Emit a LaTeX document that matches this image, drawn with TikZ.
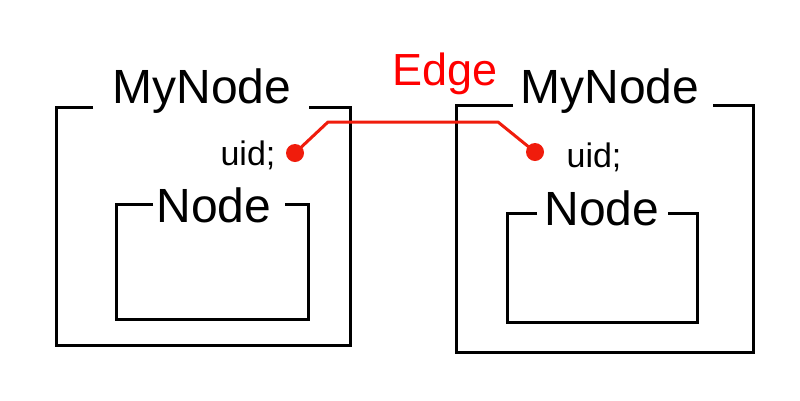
\documentclass[tikz,border=0pt]{standalone}
\usepackage{fontspec}
\setmainfont{Liberation Sans}
\definecolor{edgered}{RGB}{240,28,12}
\definecolor{labelred}{RGB}{255,0,0}
\begin{document}
\begin{tikzpicture}[x=1pt,y=-1pt,
  boxline/.style={line width=3pt,line join=miter,black},
  bigtext/.style={font=\fontsize{48}{48}\selectfont,anchor=base,inner sep=0pt},
  fieldtext/.style={font=\fontsize{34}{34}\selectfont,anchor=base,inner sep=0pt},
  edgetext/.style={font=\fontsize{45}{45}\selectfont,anchor=base,inner sep=0pt,text=labelred},
  enddot/.style={circle,fill=edgered,inner sep=0pt,minimum size=18pt},
  edgeline/.style={line width=3pt,edgered,line join=round}]
\useasboundingbox (0,0) rectangle (800,400);
% left MyNode
\node[bigtext] (myL) at (202,103) {MyNode};
\draw[boxline] (93,107) -- (56,107) -- (56,345) -- (350,345) -- (350,107) -- (309,107);
\node[fieldtext] (uidL) at (248,165) {uid;};
\node[bigtext] (nodeL) at (214,222) {Node};
\draw[boxline] (153,204) -- (116,204) -- (116,319) -- (308,319) -- (308,204) -- (285,204);
% right MyNode
\node[bigtext] (myR) at (610,103) {MyNode};
\draw[boxline] (513,105) -- (456,105) -- (456,352) -- (753,352) -- (753,105) -- (713,105);
\node[fieldtext] (uidR) at (594,167) {uid;};
\node[bigtext] (nodeR) at (602,225) {Node};
\draw[boxline] (537,213) -- (507,213) -- (507,322) -- (697,322) -- (697,213) -- (668,213);
% edge
\node[enddot] (dotL) at (295,153) {};
\node[enddot] (dotR) at (535,152) {};
\coordinate (bendL) at (328,122);
\coordinate (bendR) at (498,122);
\draw[edgeline] (dotL.center) -- (bendL) -- (bendR) -- (dotR.center);
\node[edgetext] (edgeLabel) at (445,85) {Edge};
\end{tikzpicture}
\end{document}
